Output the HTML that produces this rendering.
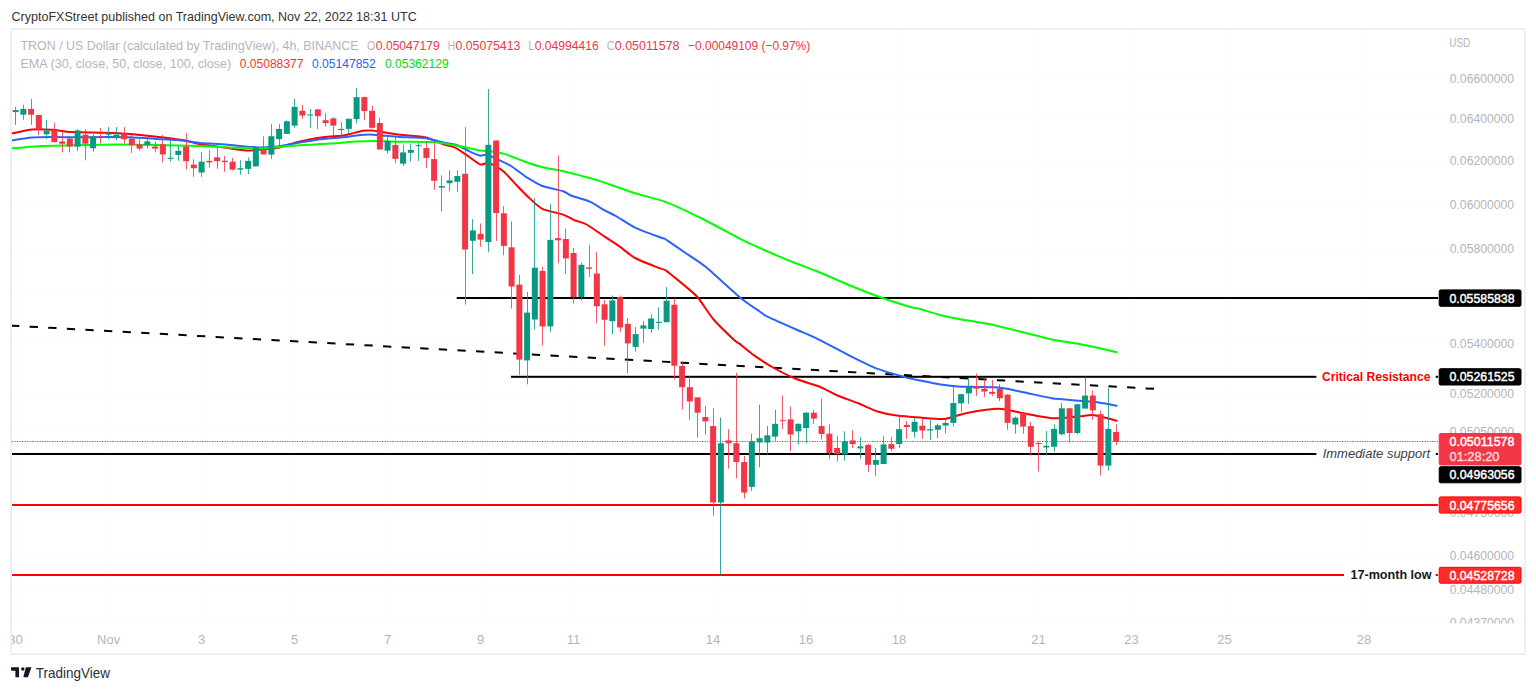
<!DOCTYPE html>
<html><head><meta charset="utf-8"><style>
html,body{margin:0;padding:0;background:#fff;width:1536px;height:691px;overflow:hidden;position:relative}
.frame{position:absolute;left:10px;top:28px;width:1512px;height:623px;border:2px solid #EDEFF3}
</style></head><body>
<div class="frame"></div>
<svg width="1536" height="691" viewBox="0 0 1536 691" style="position:absolute;left:0;top:0"><defs><clipPath id="pane"><rect x="12" y="30" width="1512" height="592"/></clipPath><clipPath id="plot"><rect x="12" y="30" width="1426" height="592"/></clipPath><clipPath id="xax"><rect x="12" y="622" width="1512" height="31"/></clipPath><clipPath id="yax"><rect x="1438" y="30" width="86" height="593.6"/></clipPath></defs><g clip-path="url(#pane)"><rect x="16" y="30" width="1" height="592" fill="#FCFCFD"/><rect x="109" y="30" width="1" height="592" fill="#FCFCFD"/><rect x="202" y="30" width="1" height="592" fill="#FCFCFD"/><rect x="295" y="30" width="1" height="592" fill="#FCFCFD"/><rect x="388" y="30" width="1" height="592" fill="#FCFCFD"/><rect x="481" y="30" width="1" height="592" fill="#FCFCFD"/><rect x="574" y="30" width="1" height="592" fill="#FCFCFD"/><rect x="713" y="30" width="1" height="592" fill="#FCFCFD"/><rect x="806" y="30" width="1" height="592" fill="#FCFCFD"/><rect x="899" y="30" width="1" height="592" fill="#FCFCFD"/><rect x="1039" y="30" width="1" height="592" fill="#FCFCFD"/><rect x="1132" y="30" width="1" height="592" fill="#FCFCFD"/><rect x="1225" y="30" width="1" height="592" fill="#FCFCFD"/><rect x="1364" y="30" width="1" height="592" fill="#FCFCFD"/><rect x="12" y="78" width="1426" height="1" fill="#FCFCFD"/><rect x="12" y="118" width="1426" height="1" fill="#FCFCFD"/><rect x="12" y="160" width="1426" height="1" fill="#FCFCFD"/><rect x="12" y="204" width="1426" height="1" fill="#FCFCFD"/><rect x="12" y="248" width="1426" height="1" fill="#FCFCFD"/><rect x="12" y="295" width="1426" height="1" fill="#FCFCFD"/><rect x="12" y="343" width="1426" height="1" fill="#FCFCFD"/><rect x="12" y="393" width="1426" height="1" fill="#FCFCFD"/><rect x="12" y="431" width="1426" height="1" fill="#FCFCFD"/><rect x="12" y="512" width="1426" height="1" fill="#FCFCFD"/><rect x="12" y="554" width="1426" height="1" fill="#FCFCFD"/><rect x="12" y="589" width="1426" height="1" fill="#FCFCFD"/><rect x="12" y="622" width="1426" height="1" fill="#FCFCFD"/></g><rect x="12" y="622" width="1512" height="1" fill="#FCFCFD"/><g clip-path="url(#plot)"><line x1="11" y1="325.6" x2="1155" y2="388.9" stroke="#000" stroke-width="2" stroke-dasharray="8.3 10.33" stroke-dashoffset="0"/><line x1="12" y1="441.5" x2="1438" y2="441.5" stroke="#F23645" stroke-width="1" stroke-dasharray="1.25 1.25"/><rect x="456.7" y="297.0" width="981.3" height="2" fill="#000"/><rect x="510.9" y="375.8" width="805.5000000000001" height="2" fill="#000"/><rect x="1435.7" y="375.8" width="2.2999999999999545" height="2" fill="#000"/><rect x="12" y="453.0" width="1304.4" height="2" fill="#000"/><rect x="1435.7" y="453.0" width="2.2999999999999545" height="2" fill="#000"/><rect x="12" y="504.0" width="1426" height="2" fill="#FF0000"/><rect x="12" y="574.0" width="1332" height="2" fill="#FF0000"/><rect x="1435.6" y="574.0" width="2.400000000000091" height="2" fill="#FF0000"/><path d="M11.7,133.4 C14.1,132.9 27.9,129.9 32.6,129.5 C37.3,129.1 47.5,129.5 52,129.8 C56.5,130.1 65.5,131.8 71.6,132.1 C77.7,132.4 97.4,132.6 104.2,132.8 C111.0,133.0 124.1,133.6 130.2,134.1 C136.3,134.6 150.2,136.0 156.3,136.7 C162.4,137.4 177.2,139.1 182.3,140 C187.4,140.9 194.9,143.4 200,144.3 C205.1,145.2 220.7,147.1 226,147.8 C231.3,148.5 241.8,150.2 245.6,150.4 C249.4,150.6 254.8,150.0 258.6,149.7 C262.4,149.4 273.5,148.7 278.1,147.8 C282.7,146.9 293.1,143.0 297.7,141.9 C302.3,140.8 311.9,138.8 317.2,138 C322.5,137.2 339.4,135.9 343.2,135.4 C347.0,134.9 347.4,134.6 349.7,134.1 C352.0,133.6 360.2,131.2 362.8,130.8 C365.4,130.4 369.6,130.4 371.9,130.6 C374.2,130.8 379.0,131.6 382.3,132.1 C385.6,132.6 394.9,134.2 400,134.8 C405.1,135.4 420.9,136.3 426,137.4 C431.1,138.5 439.9,143.1 443.4,144.3 C446.9,145.5 453.0,146.6 455.6,147.8 C458.2,149.0 463.2,152.8 466,154.7 C468.8,156.6 477.5,163.3 479.9,164.3 C482.3,165.3 485.2,163.0 486.8,163.1 C488.4,163.2 491.8,164.0 493.8,165.1 C495.8,166.2 501.4,169.6 504.2,172.1 C507.0,174.6 515.3,183.9 518.1,186.8 C520.9,189.7 525.7,194.7 528.5,197.3 C531.3,199.9 538.4,206.9 542.4,208.9 C546.4,210.9 559.6,213.3 563.2,214.6 C566.8,215.9 570.8,218.6 573.6,219.8 C576.4,221.0 583.9,223.0 587.5,225 C591.1,227.0 600.9,234.3 604.6,236.7 C608.3,239.1 615.3,243.4 618.8,245.9 C622.3,248.4 630.3,255.4 635,258 C639.7,260.6 655.6,266.6 659.3,268.1 C663.0,269.6 663.3,268.7 666.4,270.8 C669.5,272.9 681.9,283.3 685.6,286.4 C689.3,289.5 694.5,293.6 697.8,297.5 C701.1,301.4 709.7,315.0 714,320 C718.3,325.0 731.7,337.7 734.7,340.5 C737.7,343.3 737.8,342.4 740,344.1 C742.2,345.8 749.9,352.4 753.8,355.1 C757.6,357.8 768.2,364.8 773,367.5 C777.8,370.2 789.5,376.2 795,378.5 C800.5,380.8 815.0,384.9 819.8,386.8 C824.6,388.7 831.8,393.1 836.3,395 C840.8,396.9 853.5,401.4 858.3,403.3 C863.1,405.2 873.0,410.1 877.5,411.5 C882.0,412.9 891.8,414.9 896.8,415.6 C901.8,416.3 914.4,417.2 920,417.6 C925.6,418.0 939.0,419.4 944.5,418.9 C950.0,418.4 960.6,414.1 967,412.9 C973.4,411.7 992.4,408.7 999,408.7 C1005.6,408.7 1017.4,412.2 1023.5,413.3 C1029.6,414.4 1045.1,417.8 1051.7,418.2 C1058.3,418.6 1075.1,416.7 1079.9,416.3 C1084.7,415.9 1088.8,414.6 1093.1,415.1 C1097.4,415.6 1113.9,420.1 1116.6,420.8" fill="none" stroke="#FF0000" stroke-width="2" stroke-linejoin="round" stroke-linecap="round"/><path d="M11.7,140.6 C14.1,140.2 27.9,138.0 32.6,137.6 C37.3,137.2 46.7,137.1 52,137.1 C57.3,137.1 72.0,137.3 78.1,137.3 C84.2,137.3 98.1,137.1 104.2,137.1 C110.3,137.1 124.1,137.1 130.2,137.3 C136.3,137.5 150.2,138.5 156.3,138.9 C162.4,139.3 177.2,140.1 182.3,140.6 C187.4,141.1 194.9,142.4 200,142.9 C205.1,143.4 219.9,144.0 226,144.5 C232.1,145.0 246.8,146.8 252.1,147.1 C257.4,147.4 267.1,147.4 271.6,147.1 C276.2,146.8 285.8,145.0 291.1,144.1 C296.4,143.2 311.1,140.5 317.2,139.7 C323.3,138.9 338.6,137.8 343.2,137.3 C347.8,136.8 353.3,135.7 356.3,135.4 C359.3,135.1 366.3,134.5 369.3,134.5 C372.3,134.5 378.7,135.1 382.3,135.4 C385.9,135.7 394.9,136.6 400,136.9 C405.1,137.2 420.9,137.5 426,138.2 C431.1,138.9 439.7,141.8 443.4,142.6 C447.1,143.4 454.3,144.2 457.3,145.2 C460.3,146.2 466.8,150.1 469.4,151.3 C472.0,152.5 477.9,155.2 479.9,155.6 C481.9,156.0 484.8,154.3 486.8,154.7 C488.8,155.1 494.4,157.8 497.2,159.1 C500.0,160.4 507.7,163.9 511.1,166 C514.5,168.1 523.0,175.0 526.7,177.3 C530.4,179.6 538.1,184.4 542.4,186 C546.7,187.6 559.7,190.1 563.2,191.3 C566.7,192.5 569.0,194.8 572.2,196 C575.4,197.2 586.6,200.2 590.4,201.9 C594.2,203.6 601.5,208.7 604.6,210.4 C607.7,212.1 613.2,214.5 616.7,216.5 C620.2,218.5 629.8,225.1 635,227.6 C640.2,230.1 657.6,236.4 661.3,237.8 C665.0,239.2 663.6,238.0 666.4,239.8 C669.2,241.6 681.0,249.8 685.6,253 C690.2,256.2 699.6,261.9 705.9,267.1 C712.2,272.3 733.7,292.3 740,297.5 C746.3,302.7 756.8,309.5 760,311.7 C763.2,313.9 763.4,314.6 767.5,316.6 C771.6,318.6 789.2,326.4 795,329 C800.8,331.6 809.9,335.1 817,338.6 C824.1,342.1 848.4,355.2 855.5,358.7 C862.6,362.2 871.7,366.8 877.5,368.9 C883.3,371.0 900.0,375.7 905,377.1 C910.0,378.5 916.1,379.7 920,380.5 C923.9,381.3 934.4,383.6 938.8,384.3 C943.2,385.0 953.2,386.2 957.6,386.5 C962.0,386.8 971.6,386.8 976.4,386.9 C981.2,387.0 993.5,386.9 999,387.5 C1004.5,388.1 1017.4,391.0 1023.5,392.2 C1029.6,393.4 1045.1,397.2 1051.7,398.2 C1058.3,399.2 1074.4,400.2 1079.9,400.7 C1085.4,401.2 1094.4,401.9 1098.7,402.5 C1103.0,403.1 1114.5,405.3 1116.6,405.7" fill="none" stroke="#2962FF" stroke-width="2" stroke-linejoin="round" stroke-linecap="round"/><path d="M11.7,148.4 C14.9,148.1 31.3,146.6 39,146.2 C46.7,145.8 69.0,145.4 78.1,145.2 C87.2,145.0 108.1,144.5 117.2,144.5 C126.3,144.5 146.6,144.7 156.3,144.9 C166.0,145.1 190.4,145.7 200,146 C209.6,146.3 231.4,147.5 239,147.8 C246.6,148.1 259.0,148.6 265.1,148.4 C271.2,148.2 283.5,146.4 291.1,145.8 C298.7,145.2 322.6,144.1 330.2,143.6 C337.8,143.1 351.0,141.8 356.3,141.5 C361.6,141.2 370.7,141.0 375.8,141 C380.9,141.0 393.1,141.7 400,141.8 C406.9,141.9 428.0,141.7 434.7,142.2 C441.4,142.7 452.0,144.7 457.3,145.7 C462.6,146.7 476.5,149.8 479.9,150.4 C483.3,151.0 484.0,150.5 486.8,150.9 C489.6,151.3 499.7,152.6 504.2,153.9 C508.7,155.2 520.5,160.1 525,161.7 C529.5,163.3 537.9,166.1 542.4,167.2 C546.9,168.3 558.7,170.2 563.2,171.2 C567.7,172.2 576.3,174.4 580.6,175.6 C584.9,176.8 593.7,179.0 600,181.1 C606.3,183.2 627.4,190.8 635,193.2 C642.6,195.6 657.6,198.9 665.4,201.9 C673.2,204.9 694.0,214.7 701.8,218.5 C709.6,222.3 727.7,232.3 732.2,234.7 C736.7,237.1 735.9,236.8 740,238.8 C744.1,240.8 761.1,248.7 767.5,251.5 C773.9,254.3 789.2,260.7 795,263 C800.8,265.3 809.9,268.4 817,271.3 C824.1,274.2 847.8,284.7 855.5,287.8 C863.2,290.9 876.6,296.0 883,298.2 C889.4,300.4 906.2,305.7 910.5,307 C914.8,308.3 916.7,308.1 920,309 C923.3,309.9 934.4,313.6 938.8,314.7 C943.2,315.8 951.0,317.6 957.6,318.8 C964.2,320.0 986.5,323.5 995.3,325.4 C1004.1,327.3 1026.3,333.2 1032.9,334.8 C1039.5,336.4 1046.2,338.4 1051.7,339.5 C1057.2,340.6 1074.4,343.2 1079.9,344.2 C1085.4,345.2 1094.4,347.1 1098.7,348 C1103.0,348.9 1114.5,351.8 1116.6,352.3" fill="none" stroke="#00FF00" stroke-width="2" stroke-linejoin="round" stroke-linecap="round"/><rect x="15" y="106.8" width="1" height="18.1" fill="#089981" fill-opacity="0.82"/><rect x="12.60" y="110.1" width="6" height="2.0" fill="#089981"/><rect x="23" y="104.9" width="1" height="14.9" fill="#089981" fill-opacity="0.82"/><rect x="20.35" y="108.9" width="6" height="5.8" fill="#089981"/><rect x="31" y="98.8" width="1" height="26.1" fill="#F23645" fill-opacity="0.82"/><rect x="28.10" y="108.9" width="6" height="5.8" fill="#F23645"/><rect x="38" y="115.0" width="1" height="20.0" fill="#F23645" fill-opacity="0.82"/><rect x="35.85" y="115.0" width="6" height="14.2" fill="#F23645"/><rect x="46" y="120.2" width="1" height="19.1" fill="#089981" fill-opacity="0.82"/><rect x="43.60" y="130.6" width="6" height="3.7" fill="#089981"/><rect x="54" y="122.7" width="1" height="19.5" fill="#F23645" fill-opacity="0.82"/><rect x="51.35" y="130.0" width="6" height="12.2" fill="#F23645"/><rect x="62" y="132.0" width="1" height="20.4" fill="#F23645" fill-opacity="0.82"/><rect x="59.10" y="141.5" width="6" height="2.2" fill="#F23645"/><rect x="69" y="135.7" width="1" height="16.7" fill="#F23645" fill-opacity="0.82"/><rect x="66.85" y="138.6" width="6" height="8.0" fill="#F23645"/><rect x="77" y="129.2" width="1" height="21.7" fill="#089981" fill-opacity="0.82"/><rect x="74.60" y="130.4" width="6" height="16.2" fill="#089981"/><rect x="85" y="129.2" width="1" height="31.1" fill="#F23645" fill-opacity="0.82"/><rect x="82.35" y="134.7" width="6" height="9.0" fill="#F23645"/><rect x="93" y="134.3" width="1" height="17.3" fill="#089981" fill-opacity="0.82"/><rect x="90.10" y="136.4" width="6" height="11.9" fill="#089981"/><rect x="100" y="127.8" width="1" height="15.9" fill="#F23645" fill-opacity="0.82"/><rect x="97.85" y="136.4" width="6" height="1.2" fill="#F23645"/><rect x="108" y="127.0" width="1" height="12.3" fill="#089981" fill-opacity="0.82"/><rect x="105.60" y="133.5" width="6" height="1.2" fill="#089981"/><rect x="116" y="127.0" width="1" height="13.0" fill="#089981" fill-opacity="0.82"/><rect x="113.35" y="134.7" width="6" height="2.5" fill="#089981"/><rect x="124" y="127.0" width="1" height="16.7" fill="#F23645" fill-opacity="0.82"/><rect x="121.10" y="133.5" width="6" height="5.8" fill="#F23645"/><rect x="131" y="134.9" width="1" height="18.1" fill="#F23645" fill-opacity="0.82"/><rect x="128.85" y="138.6" width="6" height="6.4" fill="#F23645"/><rect x="139" y="139.2" width="1" height="11.3" fill="#F23645" fill-opacity="0.82"/><rect x="136.60" y="144.3" width="6" height="4.3" fill="#F23645"/><rect x="147" y="139.2" width="1" height="9.4" fill="#089981" fill-opacity="0.82"/><rect x="144.35" y="141.4" width="6" height="3.6" fill="#089981"/><rect x="155" y="141.4" width="1" height="10.9" fill="#F23645" fill-opacity="0.82"/><rect x="152.10" y="146.5" width="6" height="2.1" fill="#F23645"/><rect x="162" y="134.9" width="1" height="27.5" fill="#F23645" fill-opacity="0.82"/><rect x="159.85" y="144.3" width="6" height="10.1" fill="#F23645"/><rect x="170" y="140.0" width="1" height="21.7" fill="#089981" fill-opacity="0.82"/><rect x="167.60" y="157.8" width="6" height="1.1" fill="#089981"/><rect x="178" y="145.7" width="1" height="15.0" fill="#089981" fill-opacity="0.82"/><rect x="175.35" y="150.8" width="6" height="4.1" fill="#089981"/><rect x="186" y="133.1" width="1" height="36.5" fill="#F23645" fill-opacity="0.82"/><rect x="183.10" y="146.5" width="6" height="14.7" fill="#F23645"/><rect x="193" y="159.2" width="1" height="17.7" fill="#F23645" fill-opacity="0.82"/><rect x="190.85" y="164.6" width="6" height="3.6" fill="#F23645"/><rect x="201" y="152.3" width="1" height="24.6" fill="#089981" fill-opacity="0.82"/><rect x="198.60" y="161.7" width="6" height="10.8" fill="#089981"/><rect x="209" y="150.1" width="1" height="17.4" fill="#F23645" fill-opacity="0.82"/><rect x="206.35" y="160.9" width="6" height="1.5" fill="#F23645"/><rect x="217" y="147.2" width="1" height="21.7" fill="#F23645" fill-opacity="0.82"/><rect x="214.10" y="157.3" width="6" height="3.9" fill="#F23645"/><rect x="224" y="155.9" width="1" height="15.9" fill="#F23645" fill-opacity="0.82"/><rect x="221.85" y="160.7" width="6" height="1.4" fill="#F23645"/><rect x="232" y="158.0" width="1" height="12.4" fill="#F23645" fill-opacity="0.82"/><rect x="229.60" y="161.7" width="6" height="7.9" fill="#F23645"/><rect x="240" y="160.2" width="1" height="14.5" fill="#089981" fill-opacity="0.82"/><rect x="237.35" y="168.2" width="6" height="1.4" fill="#089981"/><rect x="248" y="157.3" width="1" height="16.7" fill="#089981" fill-opacity="0.82"/><rect x="245.10" y="160.9" width="6" height="8.0" fill="#089981"/><rect x="255" y="146.5" width="1" height="19.9" fill="#089981" fill-opacity="0.82"/><rect x="252.85" y="146.9" width="6" height="19.5" fill="#089981"/><rect x="263" y="136.3" width="1" height="18.1" fill="#F23645" fill-opacity="0.82"/><rect x="260.60" y="150.1" width="6" height="4.3" fill="#F23645"/><rect x="271" y="124.2" width="1" height="34.7" fill="#089981" fill-opacity="0.82"/><rect x="268.35" y="136.2" width="6" height="18.4" fill="#089981"/><rect x="279" y="124.2" width="1" height="21.7" fill="#089981" fill-opacity="0.82"/><rect x="276.10" y="128.9" width="6" height="10.2" fill="#089981"/><rect x="286" y="120.5" width="1" height="13.4" fill="#089981" fill-opacity="0.82"/><rect x="283.85" y="121.3" width="6" height="12.6" fill="#089981"/><rect x="294" y="98.8" width="1" height="29.0" fill="#089981" fill-opacity="0.82"/><rect x="291.60" y="106.8" width="6" height="18.8" fill="#089981"/><rect x="302" y="104.9" width="1" height="13.9" fill="#F23645" fill-opacity="0.82"/><rect x="299.35" y="110.8" width="6" height="4.7" fill="#F23645"/><rect x="310" y="109.0" width="1" height="18.8" fill="#089981" fill-opacity="0.82"/><rect x="307.10" y="114.5" width="6" height="1.0" fill="#089981"/><rect x="317" y="109.0" width="1" height="20.2" fill="#F23645" fill-opacity="0.82"/><rect x="314.85" y="109.4" width="6" height="6.8" fill="#F23645"/><rect x="325" y="113.3" width="1" height="13.3" fill="#F23645" fill-opacity="0.82"/><rect x="322.60" y="120.2" width="6" height="2.9" fill="#F23645"/><rect x="333" y="117.4" width="1" height="18.3" fill="#F23645" fill-opacity="0.82"/><rect x="330.35" y="118.4" width="6" height="7.2" fill="#F23645"/><rect x="341" y="122.0" width="1" height="14.2" fill="#089981" fill-opacity="0.82"/><rect x="338.10" y="128.9" width="6" height="1.1" fill="#089981"/><rect x="348" y="118.4" width="1" height="15.2" fill="#089981" fill-opacity="0.82"/><rect x="345.85" y="118.8" width="6" height="10.1" fill="#089981"/><rect x="356" y="88.0" width="1" height="35.4" fill="#089981" fill-opacity="0.82"/><rect x="353.60" y="97.1" width="6" height="22.0" fill="#089981"/><rect x="364" y="96.7" width="1" height="23.1" fill="#F23645" fill-opacity="0.82"/><rect x="361.35" y="97.1" width="6" height="14.0" fill="#F23645"/><rect x="372" y="105.8" width="1" height="22.7" fill="#F23645" fill-opacity="0.82"/><rect x="369.10" y="110.8" width="6" height="17.0" fill="#F23645"/><rect x="379" y="117.6" width="1" height="31.9" fill="#F23645" fill-opacity="0.82"/><rect x="376.85" y="123.0" width="6" height="26.5" fill="#F23645"/><rect x="387" y="136.5" width="1" height="17.0" fill="#089981" fill-opacity="0.82"/><rect x="384.60" y="140.8" width="6" height="9.9" fill="#089981"/><rect x="395" y="137.2" width="1" height="26.0" fill="#F23645" fill-opacity="0.82"/><rect x="392.35" y="144.9" width="6" height="14.0" fill="#F23645"/><rect x="403" y="144.9" width="1" height="21.0" fill="#089981" fill-opacity="0.82"/><rect x="400.10" y="152.4" width="6" height="11.3" fill="#089981"/><rect x="410" y="144.2" width="1" height="17.3" fill="#089981" fill-opacity="0.82"/><rect x="407.85" y="150.0" width="6" height="2.8" fill="#089981"/><rect x="418" y="143.1" width="1" height="17.7" fill="#089981" fill-opacity="0.82"/><rect x="415.60" y="145.2" width="6" height="1.0" fill="#089981"/><rect x="426" y="141.3" width="1" height="26.7" fill="#F23645" fill-opacity="0.82"/><rect x="423.35" y="148.1" width="6" height="9.8" fill="#F23645"/><rect x="434" y="141.3" width="1" height="48.5" fill="#F23645" fill-opacity="0.82"/><rect x="431.10" y="159.1" width="6" height="21.7" fill="#F23645"/><rect x="441" y="175.3" width="1" height="35.8" fill="#089981" fill-opacity="0.82"/><rect x="438.85" y="186.1" width="6" height="1.5" fill="#089981"/><rect x="449" y="170.2" width="1" height="21.0" fill="#089981" fill-opacity="0.82"/><rect x="446.60" y="180.4" width="6" height="2.8" fill="#089981"/><rect x="457" y="170.2" width="1" height="21.7" fill="#089981" fill-opacity="0.82"/><rect x="454.35" y="176.0" width="6" height="5.8" fill="#089981"/><rect x="465" y="127.0" width="1" height="177.7" fill="#F23645" fill-opacity="0.82"/><rect x="462.10" y="173.8" width="6" height="75.7" fill="#F23645"/><rect x="472" y="219.1" width="1" height="55.0" fill="#089981" fill-opacity="0.82"/><rect x="469.85" y="230.4" width="6" height="10.4" fill="#089981"/><rect x="480" y="223.4" width="1" height="23.5" fill="#F23645" fill-opacity="0.82"/><rect x="477.60" y="233.9" width="6" height="5.7" fill="#F23645"/><rect x="488" y="89.0" width="1" height="163.1" fill="#089981" fill-opacity="0.82"/><rect x="485.35" y="144.8" width="6" height="97.2" fill="#089981"/><rect x="496" y="140.5" width="1" height="100.3" fill="#F23645" fill-opacity="0.82"/><rect x="493.10" y="140.5" width="6" height="72.5" fill="#F23645"/><rect x="503" y="206.1" width="1" height="49.2" fill="#F23645" fill-opacity="0.82"/><rect x="500.85" y="213.3" width="6" height="32.6" fill="#F23645"/><rect x="511" y="221.3" width="1" height="87.3" fill="#F23645" fill-opacity="0.82"/><rect x="508.60" y="247.3" width="6" height="39.2" fill="#F23645"/><rect x="519" y="274.6" width="1" height="100.2" fill="#F23645" fill-opacity="0.82"/><rect x="516.35" y="284.7" width="6" height="74.9" fill="#F23645"/><rect x="527" y="292.0" width="1" height="92.3" fill="#089981" fill-opacity="0.82"/><rect x="524.10" y="312.6" width="6" height="47.8" fill="#089981"/><rect x="534" y="198.2" width="1" height="131.4" fill="#089981" fill-opacity="0.82"/><rect x="531.85" y="267.7" width="6" height="51.8" fill="#089981"/><rect x="542" y="266.9" width="1" height="78.7" fill="#F23645" fill-opacity="0.82"/><rect x="539.60" y="271.0" width="6" height="55.4" fill="#F23645"/><rect x="550" y="204.2" width="1" height="127.6" fill="#089981" fill-opacity="0.82"/><rect x="547.35" y="239.8" width="6" height="86.6" fill="#089981"/><rect x="558" y="155.3" width="1" height="107.9" fill="#F23645" fill-opacity="0.82"/><rect x="555.10" y="238.1" width="6" height="2.2" fill="#F23645"/><rect x="565" y="228.5" width="1" height="45.4" fill="#F23645" fill-opacity="0.82"/><rect x="562.85" y="239.0" width="6" height="19.4" fill="#F23645"/><rect x="573" y="248.0" width="1" height="55.6" fill="#F23645" fill-opacity="0.82"/><rect x="570.60" y="253.0" width="6" height="44.0" fill="#F23645"/><rect x="581" y="262.7" width="1" height="37.7" fill="#089981" fill-opacity="0.82"/><rect x="578.35" y="264.8" width="6" height="32.2" fill="#089981"/><rect x="589" y="245.0" width="1" height="31.8" fill="#F23645" fill-opacity="0.82"/><rect x="586.10" y="267.4" width="6" height="1.4" fill="#F23645"/><rect x="596" y="252.0" width="1" height="71.1" fill="#F23645" fill-opacity="0.82"/><rect x="593.85" y="273.5" width="6" height="32.7" fill="#F23645"/><rect x="604" y="300.0" width="1" height="45.6" fill="#F23645" fill-opacity="0.82"/><rect x="601.60" y="304.3" width="6" height="15.5" fill="#F23645"/><rect x="612" y="295.6" width="1" height="38.4" fill="#089981" fill-opacity="0.82"/><rect x="609.35" y="300.4" width="6" height="20.8" fill="#089981"/><rect x="620" y="295.6" width="1" height="36.2" fill="#F23645" fill-opacity="0.82"/><rect x="617.10" y="297.0" width="6" height="30.5" fill="#F23645"/><rect x="627" y="317.9" width="1" height="55.3" fill="#F23645" fill-opacity="0.82"/><rect x="624.85" y="323.8" width="6" height="19.6" fill="#F23645"/><rect x="635" y="327.0" width="1" height="24.7" fill="#089981" fill-opacity="0.82"/><rect x="632.60" y="334.1" width="6" height="12.8" fill="#089981"/><rect x="643" y="321.1" width="1" height="21.8" fill="#089981" fill-opacity="0.82"/><rect x="640.35" y="325.4" width="6" height="3.2" fill="#089981"/><rect x="651" y="314.2" width="1" height="18.4" fill="#089981" fill-opacity="0.82"/><rect x="648.10" y="318.5" width="6" height="10.5" fill="#089981"/><rect x="658" y="307.4" width="1" height="22.3" fill="#089981" fill-opacity="0.82"/><rect x="655.85" y="321.9" width="6" height="1.1" fill="#089981"/><rect x="666" y="287.2" width="1" height="35.0" fill="#089981" fill-opacity="0.82"/><rect x="663.60" y="300.7" width="6" height="21.5" fill="#089981"/><rect x="674" y="298.3" width="1" height="81.2" fill="#F23645" fill-opacity="0.82"/><rect x="671.35" y="304.7" width="6" height="61.0" fill="#F23645"/><rect x="682" y="361.2" width="1" height="48.3" fill="#F23645" fill-opacity="0.82"/><rect x="679.10" y="366.0" width="6" height="21.2" fill="#F23645"/><rect x="689" y="376.4" width="1" height="43.3" fill="#F23645" fill-opacity="0.82"/><rect x="686.85" y="387.2" width="6" height="14.3" fill="#F23645"/><rect x="697" y="397.0" width="1" height="40.7" fill="#F23645" fill-opacity="0.82"/><rect x="694.60" y="397.4" width="6" height="15.3" fill="#F23645"/><rect x="705" y="405.8" width="1" height="28.7" fill="#F23645" fill-opacity="0.82"/><rect x="702.35" y="417.0" width="6" height="4.3" fill="#F23645"/><rect x="713" y="408.2" width="1" height="107.4" fill="#F23645" fill-opacity="0.82"/><rect x="710.10" y="426.1" width="6" height="76.4" fill="#F23645"/><rect x="720" y="417.5" width="1" height="158.0" fill="#089981" fill-opacity="0.82"/><rect x="717.85" y="443.3" width="6" height="59.2" fill="#089981"/><rect x="728" y="429.2" width="1" height="39.5" fill="#F23645" fill-opacity="0.82"/><rect x="725.60" y="440.4" width="6" height="2.9" fill="#F23645"/><rect x="736" y="372.9" width="1" height="105.4" fill="#F23645" fill-opacity="0.82"/><rect x="733.35" y="443.3" width="6" height="18.7" fill="#F23645"/><rect x="744" y="456.0" width="1" height="42.5" fill="#F23645" fill-opacity="0.82"/><rect x="741.10" y="462.0" width="6" height="30.6" fill="#F23645"/><rect x="751" y="433.7" width="1" height="57.2" fill="#089981" fill-opacity="0.82"/><rect x="748.85" y="441.3" width="6" height="45.6" fill="#089981"/><rect x="759" y="404.7" width="1" height="62.4" fill="#089981" fill-opacity="0.82"/><rect x="756.60" y="438.2" width="6" height="4.3" fill="#089981"/><rect x="767" y="426.1" width="1" height="28.3" fill="#089981" fill-opacity="0.82"/><rect x="764.35" y="435.3" width="6" height="7.2" fill="#089981"/><rect x="775" y="409.8" width="1" height="31.1" fill="#089981" fill-opacity="0.82"/><rect x="772.10" y="423.8" width="6" height="12.8" fill="#089981"/><rect x="782" y="395.5" width="1" height="33.4" fill="#F23645" fill-opacity="0.82"/><rect x="779.85" y="420.2" width="6" height="1.0" fill="#F23645"/><rect x="790" y="406.6" width="1" height="44.6" fill="#F23645" fill-opacity="0.82"/><rect x="787.60" y="419.4" width="6" height="15.1" fill="#F23645"/><rect x="798" y="423.4" width="1" height="21.1" fill="#089981" fill-opacity="0.82"/><rect x="795.35" y="423.8" width="6" height="7.5" fill="#089981"/><rect x="806" y="412.2" width="1" height="31.1" fill="#089981" fill-opacity="0.82"/><rect x="803.10" y="412.7" width="6" height="15.4" fill="#089981"/><rect x="813" y="410.1" width="1" height="14.0" fill="#F23645" fill-opacity="0.82"/><rect x="810.85" y="412.7" width="6" height="5.9" fill="#F23645"/><rect x="821" y="398.7" width="1" height="40.6" fill="#F23645" fill-opacity="0.82"/><rect x="818.60" y="426.1" width="6" height="7.9" fill="#F23645"/><rect x="829" y="424.1" width="1" height="34.8" fill="#F23645" fill-opacity="0.82"/><rect x="826.35" y="433.7" width="6" height="19.4" fill="#F23645"/><rect x="837" y="436.1" width="1" height="25.5" fill="#F23645" fill-opacity="0.82"/><rect x="834.10" y="448.0" width="6" height="6.1" fill="#F23645"/><rect x="844" y="431.3" width="1" height="29.5" fill="#089981" fill-opacity="0.82"/><rect x="841.85" y="441.3" width="6" height="13.1" fill="#089981"/><rect x="852" y="430.2" width="1" height="17.8" fill="#F23645" fill-opacity="0.82"/><rect x="849.60" y="440.4" width="6" height="3.7" fill="#F23645"/><rect x="860" y="437.2" width="1" height="21.7" fill="#089981" fill-opacity="0.82"/><rect x="857.35" y="446.4" width="6" height="2.0" fill="#089981"/><rect x="868" y="444.1" width="1" height="27.8" fill="#F23645" fill-opacity="0.82"/><rect x="865.10" y="444.9" width="6" height="19.9" fill="#F23645"/><rect x="875" y="448.0" width="1" height="27.9" fill="#089981" fill-opacity="0.82"/><rect x="872.85" y="460.0" width="6" height="4.8" fill="#089981"/><rect x="883" y="436.1" width="1" height="27.9" fill="#089981" fill-opacity="0.82"/><rect x="880.60" y="444.5" width="6" height="19.5" fill="#089981"/><rect x="891" y="436.9" width="1" height="14.3" fill="#F23645" fill-opacity="0.82"/><rect x="888.35" y="444.1" width="6" height="4.7" fill="#F23645"/><rect x="899" y="415.4" width="1" height="32.6" fill="#089981" fill-opacity="0.82"/><rect x="896.10" y="429.2" width="6" height="14.9" fill="#089981"/><rect x="906" y="421.0" width="1" height="17.8" fill="#F23645" fill-opacity="0.82"/><rect x="903.85" y="424.9" width="6" height="2.1" fill="#F23645"/><rect x="914" y="417.8" width="1" height="19.9" fill="#089981" fill-opacity="0.82"/><rect x="911.60" y="421.8" width="6" height="10.0" fill="#089981"/><rect x="922" y="418.6" width="1" height="20.2" fill="#F23645" fill-opacity="0.82"/><rect x="919.35" y="425.7" width="6" height="4.8" fill="#F23645"/><rect x="930" y="419.4" width="1" height="20.6" fill="#089981" fill-opacity="0.82"/><rect x="927.10" y="429.2" width="6" height="1.3" fill="#089981"/><rect x="937" y="423.7" width="1" height="14.3" fill="#089981" fill-opacity="0.82"/><rect x="934.85" y="425.3" width="6" height="4.5" fill="#089981"/><rect x="945" y="418.9" width="1" height="14.4" fill="#089981" fill-opacity="0.82"/><rect x="942.60" y="422.9" width="6" height="2.7" fill="#089981"/><rect x="953" y="386.3" width="1" height="40.3" fill="#089981" fill-opacity="0.82"/><rect x="950.35" y="403.0" width="6" height="19.9" fill="#089981"/><rect x="961" y="393.8" width="1" height="18.0" fill="#089981" fill-opacity="0.82"/><rect x="958.10" y="394.2" width="6" height="9.1" fill="#089981"/><rect x="968" y="377.5" width="1" height="26.3" fill="#089981" fill-opacity="0.82"/><rect x="965.85" y="386.8" width="6" height="6.6" fill="#089981"/><rect x="976" y="373.5" width="1" height="22.3" fill="#F23645" fill-opacity="0.82"/><rect x="973.60" y="386.3" width="6" height="2.4" fill="#F23645"/><rect x="984" y="379.1" width="1" height="17.8" fill="#F23645" fill-opacity="0.82"/><rect x="981.35" y="388.7" width="6" height="2.8" fill="#F23645"/><rect x="992" y="379.9" width="1" height="15.9" fill="#F23645" fill-opacity="0.82"/><rect x="989.10" y="391.9" width="6" height="1.9" fill="#F23645"/><rect x="999" y="383.9" width="1" height="17.2" fill="#F23645" fill-opacity="0.82"/><rect x="996.85" y="388.7" width="6" height="9.5" fill="#F23645"/><rect x="1007" y="394.2" width="1" height="35.6" fill="#F23645" fill-opacity="0.82"/><rect x="1004.60" y="394.7" width="6" height="28.2" fill="#F23645"/><rect x="1015" y="416.5" width="1" height="17.1" fill="#089981" fill-opacity="0.82"/><rect x="1012.35" y="417.7" width="6" height="6.8" fill="#089981"/><rect x="1023" y="412.6" width="1" height="21.0" fill="#F23645" fill-opacity="0.82"/><rect x="1020.10" y="412.9" width="6" height="13.7" fill="#F23645"/><rect x="1030" y="422.0" width="1" height="33.4" fill="#F23645" fill-opacity="0.82"/><rect x="1027.85" y="426.1" width="6" height="20.7" fill="#F23645"/><rect x="1038" y="441.5" width="1" height="30.1" fill="#F23645" fill-opacity="0.82"/><rect x="1035.60" y="443.1" width="6" height="1.0" fill="#F23645"/><rect x="1046" y="431.1" width="1" height="24.3" fill="#089981" fill-opacity="0.82"/><rect x="1043.35" y="445.8" width="6" height="1.7" fill="#089981"/><rect x="1054" y="424.3" width="1" height="27.3" fill="#089981" fill-opacity="0.82"/><rect x="1051.10" y="428.9" width="6" height="17.9" fill="#089981"/><rect x="1061" y="403.1" width="1" height="32.5" fill="#089981" fill-opacity="0.82"/><rect x="1058.85" y="408.3" width="6" height="26.0" fill="#089981"/><rect x="1069" y="408.3" width="1" height="34.2" fill="#F23645" fill-opacity="0.82"/><rect x="1066.60" y="408.3" width="6" height="24.7" fill="#F23645"/><rect x="1077" y="403.8" width="1" height="30.5" fill="#089981" fill-opacity="0.82"/><rect x="1074.35" y="404.3" width="6" height="28.7" fill="#089981"/><rect x="1085" y="377.0" width="1" height="31.6" fill="#089981" fill-opacity="0.82"/><rect x="1082.10" y="395.6" width="6" height="13.0" fill="#089981"/><rect x="1092" y="390.4" width="1" height="29.5" fill="#F23645" fill-opacity="0.82"/><rect x="1089.85" y="395.6" width="6" height="14.8" fill="#F23645"/><rect x="1100" y="410.4" width="1" height="65.1" fill="#F23645" fill-opacity="0.82"/><rect x="1097.60" y="414.2" width="6" height="51.4" fill="#F23645"/><rect x="1108" y="387.8" width="1" height="82.8" fill="#089981" fill-opacity="0.82"/><rect x="1105.35" y="428.9" width="6" height="36.7" fill="#089981"/><rect x="1116" y="424.3" width="1" height="21.0" fill="#F23645" fill-opacity="0.82"/><rect x="1113.10" y="432.0" width="6" height="9.8" fill="#F23645"/></g><text x="1321.9" y="381" font-family='"Liberation Sans", sans-serif' font-size="12.5" fill="#FF0000" text-anchor="start" font-weight="bold" font-style="normal" textLength="108.6" lengthAdjust="spacingAndGlyphs">Critical Resistance</text><text x="1322.7" y="458" font-family='"Liberation Sans", sans-serif' font-size="12.5" fill="#3A3D45" text-anchor="start" font-weight="normal" font-style="italic" textLength="107.5" lengthAdjust="spacingAndGlyphs">Immediate support</text><text x="1350.5" y="578.8" font-family='"Liberation Sans", sans-serif' font-size="12.5" fill="#131722" text-anchor="start" font-weight="bold" font-style="normal" textLength="81" lengthAdjust="spacingAndGlyphs">17-month low</text><g clip-path="url(#yax)"><text x="1449.7" y="82.85006659632165" font-family='"Liberation Sans", sans-serif' font-size="12" fill="#B2B5BE" text-anchor="start" font-weight="normal" font-style="normal" textLength="64.4" lengthAdjust="spacingAndGlyphs">0.06600000</text><text x="1449.7" y="123.48096469990324" font-family='"Liberation Sans", sans-serif' font-size="12" fill="#B2B5BE" text-anchor="start" font-weight="normal" font-style="normal" textLength="64.4" lengthAdjust="spacingAndGlyphs">0.06400000</text><text x="1449.7" y="165.40194595447502" font-family='"Liberation Sans", sans-serif' font-size="12" fill="#B2B5BE" text-anchor="start" font-weight="normal" font-style="normal" textLength="64.4" lengthAdjust="spacingAndGlyphs">0.06200000</text><text x="1449.7" y="208.69762800995207" font-family='"Liberation Sans", sans-serif' font-size="12" fill="#B2B5BE" text-anchor="start" font-weight="normal" font-style="normal" textLength="64.4" lengthAdjust="spacingAndGlyphs">0.06000000</text><text x="1449.7" y="253.4612368425217" font-family='"Liberation Sans", sans-serif' font-size="12" fill="#B2B5BE" text-anchor="start" font-weight="normal" font-style="normal" textLength="64.4" lengthAdjust="spacingAndGlyphs">0.05800000</text><text x="1449.7" y="347.815652884546" font-family='"Liberation Sans", sans-serif' font-size="12" fill="#B2B5BE" text-anchor="start" font-weight="normal" font-style="normal" textLength="64.4" lengthAdjust="spacingAndGlyphs">0.05400000</text><text x="1449.7" y="397.6479819530972" font-family='"Liberation Sans", sans-serif' font-size="12" fill="#B2B5BE" text-anchor="start" font-weight="normal" font-style="normal" textLength="64.4" lengthAdjust="spacingAndGlyphs">0.05200000</text><text x="1449.7" y="436.2965947421667" font-family='"Liberation Sans", sans-serif' font-size="12" fill="#B2B5BE" text-anchor="start" font-weight="normal" font-style="normal" textLength="64.4" lengthAdjust="spacingAndGlyphs">0.05050000</text><text x="1449.7" y="517.1626775100113" font-family='"Liberation Sans", sans-serif' font-size="12" fill="#B2B5BE" text-anchor="start" font-weight="normal" font-style="normal" textLength="64.4" lengthAdjust="spacingAndGlyphs">0.04750000</text><text x="1449.7" y="559.5320880438129" font-family='"Liberation Sans", sans-serif' font-size="12" fill="#B2B5BE" text-anchor="start" font-weight="normal" font-style="normal" textLength="64.4" lengthAdjust="spacingAndGlyphs">0.04600000</text><text x="1449.7" y="594.4345606766057" font-family='"Liberation Sans", sans-serif' font-size="12" fill="#B2B5BE" text-anchor="start" font-weight="normal" font-style="normal" textLength="64.4" lengthAdjust="spacingAndGlyphs">0.04480000</text><text x="1449.7" y="627.2597539531342" font-family='"Liberation Sans", sans-serif' font-size="12" fill="#B2B5BE" text-anchor="start" font-weight="normal" font-style="normal" textLength="64.4" lengthAdjust="spacingAndGlyphs">0.04370000</text></g><text x="1449.3" y="47.1" font-family='"Liberation Sans", sans-serif' font-size="12" fill="#B2B5BE" text-anchor="start" font-weight="normal" font-style="normal" textLength="21" lengthAdjust="spacingAndGlyphs">USD</text><rect x="1439.2" y="289.9" width="81.8" height="16.400000000000034" rx="1.5" fill="#000" stroke="#000" stroke-width="1"/><text x="1449.5" y="302.6" font-family='"Liberation Sans", sans-serif' font-size="12.5" fill="#fff" text-anchor="start" font-weight="normal" font-style="normal" textLength="65" lengthAdjust="spacingAndGlyphs" stroke="#fff" stroke-width="0.45">0.05585838</text><rect x="1439.2" y="368.7" width="81.8" height="16.30000000000001" rx="1.5" fill="#000" stroke="#000" stroke-width="1"/><text x="1449.5" y="381.35" font-family='"Liberation Sans", sans-serif' font-size="12.5" fill="#fff" text-anchor="start" font-weight="normal" font-style="normal" textLength="65" lengthAdjust="spacingAndGlyphs" stroke="#fff" stroke-width="0.45">0.05261525</text><rect x="1439.2" y="496.9" width="81.8" height="16.200000000000045" rx="1.5" fill="#FF2A2A" stroke="#FF0000" stroke-width="1"/><text x="1449.5" y="509.5" font-family='"Liberation Sans", sans-serif' font-size="12.5" fill="#fff" text-anchor="start" font-weight="normal" font-style="normal" textLength="65" lengthAdjust="spacingAndGlyphs" stroke="#fff" stroke-width="0.45">0.04775656</text><rect x="1439.2" y="567.3" width="81.8" height="15.900000000000091" rx="1.5" fill="#FF2A2A" stroke="#FF0000" stroke-width="1"/><text x="1449.5" y="579.75" font-family='"Liberation Sans", sans-serif' font-size="12.5" fill="#fff" text-anchor="start" font-weight="normal" font-style="normal" textLength="65" lengthAdjust="spacingAndGlyphs" stroke="#fff" stroke-width="0.45">0.04528728</text><rect x="1439.2" y="466.7" width="81.8" height="16.100000000000023" rx="1.5" fill="#000" stroke="#000" stroke-width="1"/><text x="1449.5" y="479.25" font-family='"Liberation Sans", sans-serif' font-size="12.5" fill="#fff" text-anchor="start" font-weight="normal" font-style="normal" textLength="65" lengthAdjust="spacingAndGlyphs" stroke="#fff" stroke-width="0.45">0.04963056</text><rect x="1439.2" y="433.5" width="81.8" height="31.399999999999977" rx="1.5" fill="#F23645" stroke="#F23645" stroke-width="1"/><text x="1449.5" y="445.5" font-family='"Liberation Sans", sans-serif' font-size="12.5" fill="#fff" text-anchor="start" font-weight="normal" font-style="normal" textLength="65" lengthAdjust="spacingAndGlyphs" stroke="#fff" stroke-width="0.45">0.05011578</text><text x="1449.5" y="460.6" font-family='"Liberation Sans", sans-serif' font-size="12.5" fill="#FFD3D7" text-anchor="start" font-weight="normal" font-style="normal" textLength="50" lengthAdjust="spacingAndGlyphs" stroke="#FFD3D7" stroke-width="0.45">01:28:20</text><g clip-path="url(#xax)"><text x="15.6" y="644.2" font-family='"Liberation Sans", sans-serif' font-size="13" fill="#B2B5BE" text-anchor="middle" font-weight="normal" font-style="normal">30</text><text x="108.6" y="644.2" font-family='"Liberation Sans", sans-serif' font-size="13" fill="#B2B5BE" text-anchor="middle" font-weight="normal" font-style="normal">Nov</text><text x="201.6" y="644.2" font-family='"Liberation Sans", sans-serif' font-size="13" fill="#B2B5BE" text-anchor="middle" font-weight="normal" font-style="normal">3</text><text x="294.6" y="644.2" font-family='"Liberation Sans", sans-serif' font-size="13" fill="#B2B5BE" text-anchor="middle" font-weight="normal" font-style="normal">5</text><text x="387.6" y="644.2" font-family='"Liberation Sans", sans-serif' font-size="13" fill="#B2B5BE" text-anchor="middle" font-weight="normal" font-style="normal">7</text><text x="480.6" y="644.2" font-family='"Liberation Sans", sans-serif' font-size="13" fill="#B2B5BE" text-anchor="middle" font-weight="normal" font-style="normal">9</text><text x="573.6" y="644.2" font-family='"Liberation Sans", sans-serif' font-size="13" fill="#B2B5BE" text-anchor="middle" font-weight="normal" font-style="normal">11</text><text x="713.1" y="644.2" font-family='"Liberation Sans", sans-serif' font-size="13" fill="#B2B5BE" text-anchor="middle" font-weight="normal" font-style="normal">14</text><text x="806.1" y="644.2" font-family='"Liberation Sans", sans-serif' font-size="13" fill="#B2B5BE" text-anchor="middle" font-weight="normal" font-style="normal">16</text><text x="899.1" y="644.2" font-family='"Liberation Sans", sans-serif' font-size="13" fill="#B2B5BE" text-anchor="middle" font-weight="normal" font-style="normal">18</text><text x="1038.6" y="644.2" font-family='"Liberation Sans", sans-serif' font-size="13" fill="#B2B5BE" text-anchor="middle" font-weight="normal" font-style="normal">21</text><text x="1131.6" y="644.2" font-family='"Liberation Sans", sans-serif' font-size="13" fill="#B2B5BE" text-anchor="middle" font-weight="normal" font-style="normal">23</text><text x="1224.6" y="644.2" font-family='"Liberation Sans", sans-serif' font-size="13" fill="#B2B5BE" text-anchor="middle" font-weight="normal" font-style="normal">25</text><text x="1364.1" y="644.2" font-family='"Liberation Sans", sans-serif' font-size="13" fill="#B2B5BE" text-anchor="middle" font-weight="normal" font-style="normal">28</text></g><text x="20.4" y="50.2" font-family='"Liberation Sans", sans-serif' font-size="13" fill="#B2B5BE" text-anchor="start" font-weight="normal" font-style="normal" textLength="338.2" lengthAdjust="spacingAndGlyphs">TRON / US Dollar (calculated by TradingView), 4h, BINANCE</text><text x="366.9" y="50.2" font-family='"Liberation Sans", sans-serif' font-size="13" fill="#B2B5BE" text-anchor="start" font-weight="normal" font-style="normal" textLength="8.2" lengthAdjust="spacingAndGlyphs">O</text><text x="375.8" y="50.2" font-family='"Liberation Sans", sans-serif' font-size="13" fill="#F23645" text-anchor="start" font-weight="normal" font-style="normal" textLength="64.0" lengthAdjust="spacingAndGlyphs">0.05047179</text><text x="447.8" y="50.2" font-family='"Liberation Sans", sans-serif' font-size="13" fill="#B2B5BE" text-anchor="start" font-weight="normal" font-style="normal" textLength="7.4" lengthAdjust="spacingAndGlyphs">H</text><text x="455.6" y="50.2" font-family='"Liberation Sans", sans-serif' font-size="13" fill="#F23645" text-anchor="start" font-weight="normal" font-style="normal" textLength="64.7" lengthAdjust="spacingAndGlyphs">0.05075413</text><text x="528.3" y="50.2" font-family='"Liberation Sans", sans-serif' font-size="13" fill="#B2B5BE" text-anchor="start" font-weight="normal" font-style="normal" textLength="6.2" lengthAdjust="spacingAndGlyphs">L</text><text x="534.7" y="50.2" font-family='"Liberation Sans", sans-serif' font-size="13" fill="#F23645" text-anchor="start" font-weight="normal" font-style="normal" textLength="64.1" lengthAdjust="spacingAndGlyphs">0.04994416</text><text x="606.8" y="50.2" font-family='"Liberation Sans", sans-serif' font-size="13" fill="#B2B5BE" text-anchor="start" font-weight="normal" font-style="normal" textLength="7.8" lengthAdjust="spacingAndGlyphs">C</text><text x="614.8" y="50.2" font-family='"Liberation Sans", sans-serif' font-size="13" fill="#F23645" text-anchor="start" font-weight="normal" font-style="normal" textLength="64.7" lengthAdjust="spacingAndGlyphs">0.05011578</text><text x="688.1" y="50.2" font-family='"Liberation Sans", sans-serif' font-size="13" fill="#F23645" text-anchor="start" font-weight="normal" font-style="normal" textLength="122.1" lengthAdjust="spacingAndGlyphs">−0.00049109 (−0.97%)</text><text x="20.4" y="67.8" font-family='"Liberation Sans", sans-serif' font-size="13" fill="#B2B5BE" text-anchor="start" font-weight="normal" font-style="normal" textLength="210.9" lengthAdjust="spacingAndGlyphs">EMA (30, close, 50, close, 100, close)</text><text x="239.7" y="67.8" font-family='"Liberation Sans", sans-serif' font-size="13" fill="#FF3333" text-anchor="start" font-weight="normal" font-style="normal" textLength="63.8" lengthAdjust="spacingAndGlyphs">0.05088377</text><text x="312" y="67.8" font-family='"Liberation Sans", sans-serif' font-size="13" fill="#2962FF" text-anchor="start" font-weight="normal" font-style="normal" textLength="63.8" lengthAdjust="spacingAndGlyphs">0.05147852</text><text x="384.9" y="67.8" font-family='"Liberation Sans", sans-serif' font-size="13" fill="#00DD00" text-anchor="start" font-weight="normal" font-style="normal" textLength="63.8" lengthAdjust="spacingAndGlyphs">0.05362129</text><text x="11.5" y="20.8" font-family='"Liberation Sans", sans-serif' font-size="13" fill="#333333" text-anchor="start" font-weight="normal" font-style="normal" textLength="405.2" lengthAdjust="spacingAndGlyphs">CryptoFXStreet published on TradingView.com, Nov 22, 2022 18:31 UTC</text><g fill="#131722"><path d="M11.1 667.2 H19 V677.3 H15.4 V670.8 H11.1 Z"/><circle cx="22.8" cy="669" r="1.7"/><path d="M25.8 667.2 H31.5 L27.9 677.3 H23.3 Z"/></g><text x="35.8" y="677.6" font-family='"Liberation Sans", sans-serif' font-size="14.3" fill="#2A2E39" text-anchor="start" font-weight="normal" font-style="normal" textLength="74.1" lengthAdjust="spacingAndGlyphs">TradingView</text></svg>
</body></html>
